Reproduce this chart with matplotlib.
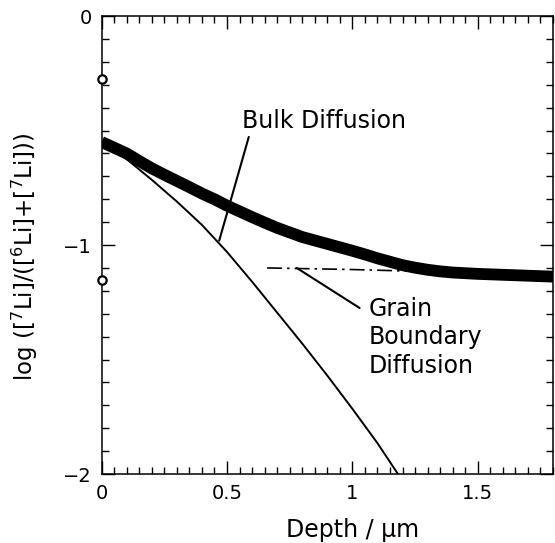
import matplotlib
matplotlib.use("Agg")
import matplotlib.pyplot as plt
from matplotlib.ticker import MultipleLocator, FuncFormatter

# ---- data ----
depth_meas = [0.00, 0.05, 0.10, 0.15, 0.20, 0.25, 0.30, 0.35, 0.40, 0.45, 0.50,
              0.55, 0.60, 0.65, 0.70, 0.75, 0.80, 0.85, 0.90, 0.95, 1.00, 1.05,
              1.10, 1.15, 1.20, 1.25, 1.30, 1.35, 1.40, 1.50, 1.60, 1.70, 1.80]
ratio_meas = [-0.550, -0.575, -0.600, -0.633, -0.665, -0.693, -0.720, -0.747,
              -0.775, -0.800, -0.828, -0.853, -0.878, -0.902, -0.925, -0.945,
              -0.965, -0.980, -0.995, -1.010, -1.025, -1.041, -1.058, -1.073,
              -1.088, -1.099, -1.108, -1.115, -1.120, -1.126, -1.130, -1.134,
              -1.138]

depth_bulk = [0.00, 0.10, 0.20, 0.30, 0.40, 0.50, 0.60, 0.70, 0.80, 0.90, 1.00,
              1.10, 1.20, 1.25]
ratio_bulk = [-0.550, -0.625, -0.715, -0.810, -0.912, -1.030, -1.160, -1.295,
              -1.430, -1.570, -1.715, -1.865, -2.030, -2.115]

depth_gb = [0.66, 1.00, 1.20, 1.50, 1.80]
ratio_gb = [-1.100, -1.107, -1.113, -1.122, -1.130]

depth_surf = [0.0, 0.0]
ratio_surf = [-0.275, -1.153]

xlabel = "Depth / μm"
ylabel = r"log ([$^{7}$Li]/([$^{6}$Li]+[$^{7}$Li]))"
label_bulk = "Bulk Diffusion"
label_gb = "Grain\nBoundary\nDiffusion"

plt.rcParams['font.family'] = ['DejaVu Sans']
plt.rcParams['mathtext.default'] = 'regular'
plt.rcParams['xtick.labelsize'] = 14
plt.rcParams['ytick.labelsize'] = 14

fig = plt.figure(figsize=(5.55, 5.43), dpi=100)
ax = fig.add_axes([0.183, 0.127, 0.8134, 0.8435])

ax.plot(depth_gb, ratio_gb, color='black', lw=1.2,
        dashes=(9, 3, 1.5, 3), zorder=2)
ax.plot(depth_bulk, ratio_bulk, color='black', lw=1.4, zorder=3)
ax.plot(depth_meas, ratio_meas, color='black', lw=8.5,
        solid_capstyle='butt', solid_joinstyle='round', zorder=4)
ax.plot(depth_surf, ratio_surf, linestyle='none', marker='o', ms=6,
        mfc='white', mec='black', mew=1.6, clip_on=False, zorder=5)

ax.set_xlim(0, 1.8)
ax.set_ylim(-2, 0)
ax.xaxis.set_major_locator(MultipleLocator(0.5))
ax.xaxis.set_minor_locator(MultipleLocator(0.05))
ax.yaxis.set_major_locator(MultipleLocator(1))
ax.yaxis.set_minor_locator(MultipleLocator(0.1))
ax.xaxis.set_major_formatter(FuncFormatter(
    lambda v, p: '0' if abs(v) < 1e-9 else ('%g' % v)))
ax.yaxis.set_major_formatter(FuncFormatter(
    lambda v, p: '0' if abs(v) < 1e-9 else ('\u2212%g' % abs(v))))

ax.tick_params(which='both', direction='in', top=True, right=True,
               width=1.0, pad=7)
ax.tick_params(which='major', length=9.5)
ax.tick_params(which='minor', length=5.2)
for s in ax.spines.values():
    s.set_linewidth(1.1)

ax.set_xlabel(xlabel, fontsize=17)
ax.xaxis.set_label_coords(0.557, -0.095)
ax.set_ylabel(ylabel, fontsize=16.5)
ax.yaxis.set_label_coords(-0.137, 0.474)

ax.text(0.559, -0.488, label_bulk, fontsize=17, ha='left', va='baseline')
ax.annotate('', xy=(0.469, -0.981), xytext=(0.587, -0.528),
            arrowprops=dict(arrowstyle='-', lw=1.5, color='black',
                            shrinkA=0, shrinkB=0))
ax.text(1.066, -1.228, label_gb, fontsize=17, ha='left', va='top',
        linespacing=1.22)
ax.annotate('', xy=(1.029, -1.275), xytext=(0.778, -1.100),
            arrowprops=dict(arrowstyle='-', lw=1.5, color='black',
                            shrinkA=0, shrinkB=0))

fig.savefig('out.png', dpi=100)
